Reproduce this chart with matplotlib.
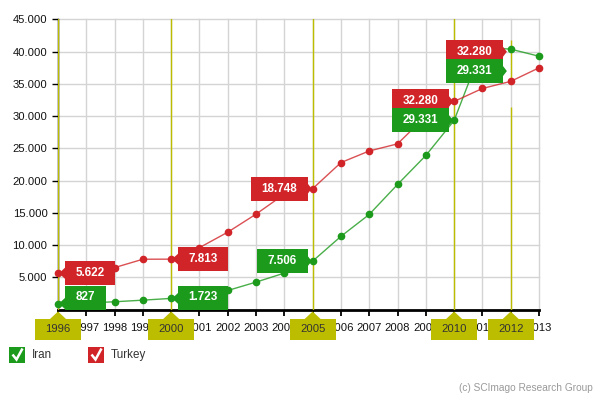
import matplotlib
matplotlib.use("Agg")
import matplotlib.pyplot as plt
from matplotlib.patches import Polygon, Rectangle
from matplotlib.transforms import IdentityTransform
from matplotlib.lines import Line2D

plt.rcParams['font.family'] = ['Liberation Sans', 'DejaVu Sans']

# ---------------- data ----------------
years = list(range(1996, 2014))
iran = [827, 1000, 1200, 1450, 1723, 2200, 2950, 4250, 5650, 7506,
        11350, 14750, 19400, 23900, 29331, 40700, 40400, 39300]
turkey = [5622, 6000, 6500, 7800, 7813, 9600, 12000, 14800, 17900, 18748,
          22800, 24600, 25700, 30000, 32280, 34300, 35400, 37500]
y_ticks = [5000, 10000, 15000, 20000, 25000, 30000, 35000, 40000, 45000]
y_tick_labels = ["5.000", "10.000", "15.000", "20.000", "25.000",
                 "30.000", "35.000", "40.000", "45.000"]
highlight_years = [1996, 2000, 2005, 2010, 2012]
# tooltips: (year, series, value text, side of box)
tooltip_years = [1996, 2000, 2005, 2010]
tooltip_sides = ["right", "right", "left", "left"]
# stray duplicated tooltip seen near 2012 (anchor x, red anchor y, green anchor y)
dup_tip = (2011.9, 40000, 37000, "32.280", "29.331")

RED = "#D12428"
GREEN = "#1C9A1C"
YEL = "#BDBD00"

def fmt(v):
    return f"{v:,}".replace(",", ".")

W, H = 598, 398
fig = plt.figure(figsize=(W / 100, H / 100), dpi=100)
ax = fig.add_axes([58 / W, 1 - 309.5 / H, (539 - 58) / W, (309.5 - 19.5) / H])
ax.set_xlim(1996, 2013)
ax.set_ylim(0, 45000)

ax.set_xticks(years)
# highlighted years get their label inside the yellow box instead
ax.set_xticklabels(["" if y in highlight_years else str(y) for y in years])
ax.set_yticks(y_ticks)
ax.set_yticklabels(y_tick_labels)
ax.grid(True, color="#d4d4d4", lw=1, zorder=0)
ax.set_axisbelow(True)
for gl in ax.get_xgridlines() + ax.get_ygridlines():
    gl.set_clip_on(False)
for s in ["top", "right"]:
    ax.spines[s].set_visible(False)
ax.spines["left"].set_color("black")
ax.spines["left"].set_linewidth(1)
ax.spines["bottom"].set_color("black")
ax.spines["bottom"].set_linewidth(2)
ax.tick_params(axis="x", direction="out", length=4.5, width=1.3, pad=5.0,
               labelsize=8.1, colors="black")
ax.tick_params(axis="y", direction="out", length=4.5, width=1, pad=3,
               labelsize=8.1, colors="black")
for lbl in ax.get_xticklabels() + ax.get_yticklabels():
    lbl.set_color("#111111")

# highlight lines
for y in [1996, 2000, 2005, 2010]:
    ax.axvline(y, color=YEL, lw=1, zorder=2.6)
ax.vlines(2012, 0, 31450, color=YEL, lw=1, zorder=2.6)
ax.vlines(2012, 35180, 41850, color=YEL, lw=1, zorder=2.6)

# series
ax.plot(years, iran, color=GREEN, lw=1, alpha=0.8, zorder=3, clip_on=False)
ax.plot(years, iran, ls="none", marker="o", ms=4.5, color=GREEN, zorder=3.1, clip_on=False)
ax.plot(years, turkey, color=RED, lw=1, alpha=0.8, zorder=3, clip_on=False)
ax.plot(years, turkey, ls="none", marker="o", ms=4.5, color=RED, zorder=3.1, clip_on=False)

fig.canvas.draw()
renderer = fig.canvas.get_renderer()
ident = IdentityTransform()
axis_bottom = ax.transData.transform((1996, 0))[1]

def tip(xd, yd, text, color, side, z):
    px, py = ax.transData.transform((xd, yd))
    t = ax.text(0, 0, text, color="white", fontsize=8.4, fontweight="bold",
                ha="center", va="center", transform=ident, zorder=z + 0.05,
                clip_on=False)
    tw = t.get_window_extent(renderer).width
    bw = tw + 21
    bh = 24
    cy = max(py, axis_bottom + bh / 2)
    ay = min(max(py, cy - bh / 2 + 6), cy + bh / 2 - 6)
    if side == "right":
        x0 = px + 7
        poly = [(px + 1, ay), (x0 + 1, ay + 6.5), (x0 + 1, ay - 6.5)]
    else:
        x0 = px - 5 - bw
        poly = [(px - 1, ay), (px - 6, ay + 6.5), (px - 6, ay - 6.5)]
    ax.add_patch(Rectangle((x0, cy - bh / 2), bw, bh, facecolor=color,
                           edgecolor="none", transform=ident, zorder=z,
                           clip_on=False))
    ax.add_patch(Polygon(poly, closed=True, facecolor=color, edgecolor="none",
                         transform=ident, zorder=z, clip_on=False))
    t.set_position((x0 + bw / 2, cy))

z = 10
for yr, side in zip(tooltip_years, tooltip_sides):
    i = years.index(yr)
    tip(yr, turkey[i], fmt(turkey[i]), RED, side, z)
    z += 0.2
    tip(yr, iran[i], fmt(iran[i]), GREEN, side, z)
    z += 0.2
tip(dup_tip[0], dup_tip[1], dup_tip[3], RED, "left", z)
z += 0.2
tip(dup_tip[0], dup_tip[2], dup_tip[4], GREEN, "left", z)
z += 0.2

# yellow year boxes on x axis
for yr in highlight_years:
    px, _ = ax.transData.transform((yr, 0))
    top = H - 319
    ax.add_patch(Rectangle((px - 23, H - 340), 46, 21, facecolor=YEL,
                           edgecolor="none", transform=ident, zorder=20,
                           clip_on=False))
    ax.add_patch(Polygon([(px - 8, top), (px, H - 311.5), (px + 8, top)],
                         closed=True, facecolor=YEL, edgecolor="none",
                         transform=ident, zorder=20, clip_on=False))
    ax.text(px, H - 329.5, str(yr), color="#333333", fontsize=8.1,
            ha="center", va="center", transform=ident, zorder=21,
            clip_on=False)

# legend
def legend_item(x, label, color):
    fig.patches.append(Rectangle((x, H - 363), 16, 16, facecolor=color,
                                 edgecolor="none", transform=ident))
    fig.lines.append(Line2D([x + 3.5, x + 7.5, x + 13.5],
                            [H - 354.5, H - 359.5, H - 348.5],
                            color="white", lw=1.8, transform=ident,
                            solid_capstyle="butt", solid_joinstyle="miter"))
    fig.text(x + 23, H - 355, label, color="#333333", fontsize=8.4,
             ha="left", va="center", transform=ident)

legend_item(9, "Iran", GREEN)
legend_item(88, "Turkey", RED)

fig.text(593, H - 388, "(c) SCImago Research Group", color="#9a9a9a",
         fontsize=7.3, ha="right", va="center", transform=ident)

fig.savefig("out.png", dpi=100)
